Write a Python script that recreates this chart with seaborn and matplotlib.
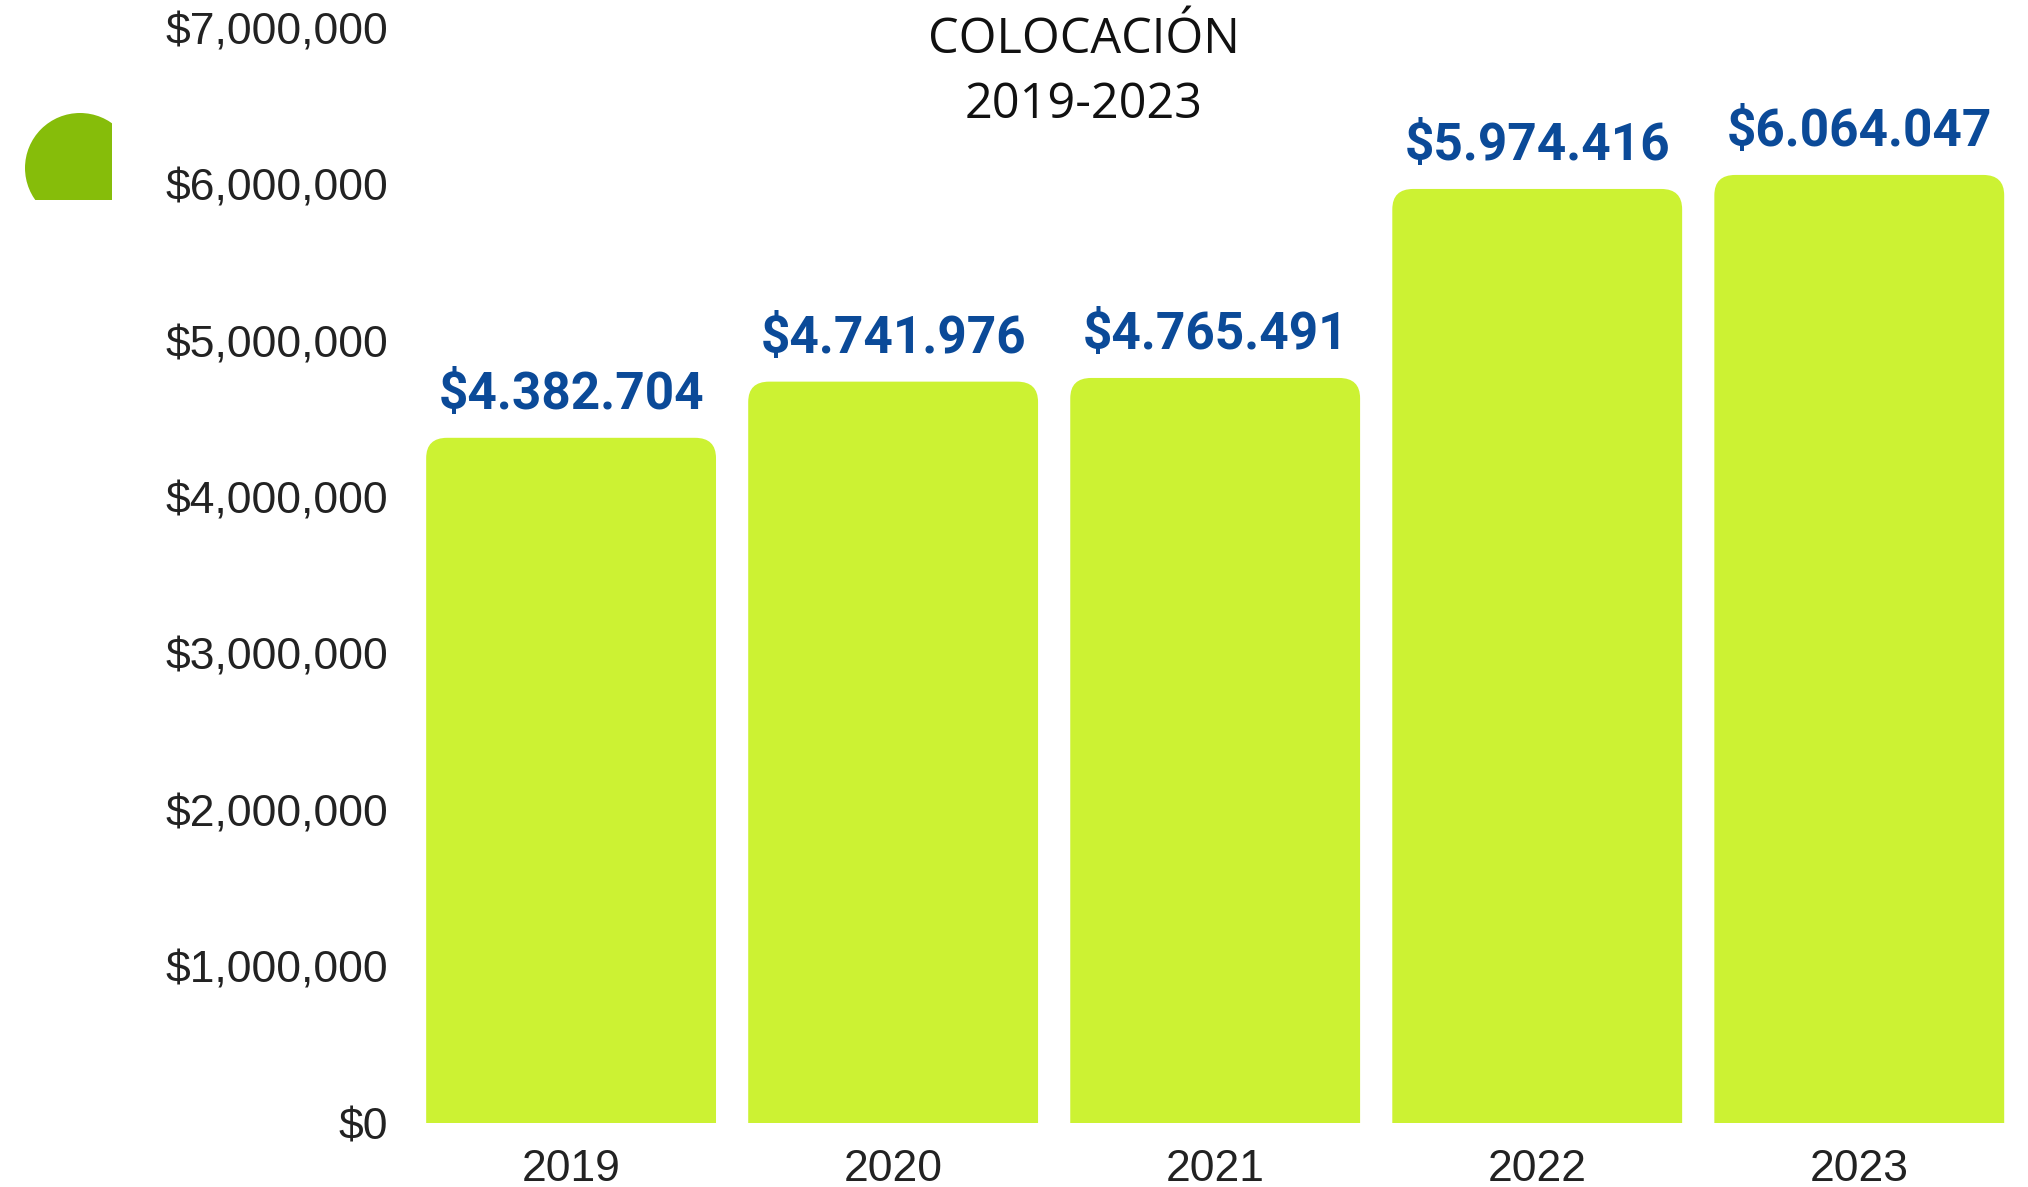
import matplotlib
matplotlib.use('Agg')
import matplotlib.pyplot as plt
import seaborn as sns
import pandas as pd
from matplotlib.patches import FancyBboxPatch, Ellipse, Rectangle
from matplotlib.ticker import FuncFormatter

# Data
years = ['2019', '2020', '2021', '2022', '2023']
colocacion = [4382704, 4741976, 4765491, 5974416, 6064047]
value_labels = ['$4.382.704', '$4.741.976', '$4.765.491', '$5.974.416', '$6.064.047']
y_ticks = [0, 1000000, 2000000, 3000000, 4000000, 5000000, 6000000, 7000000]

bar_color = '#CCF233'
label_blue = '#0B4A98'

sns.set_theme(style='white')
plt.rcParams['font.family'] = ['Liberation Sans', 'DejaVu Sans']

df = pd.DataFrame({'year': years, 'value': colocacion})

fig = plt.figure(figsize=(20.28, 11.87), dpi=100)
ax = fig.add_axes([0.2022, 0.0539, 0.794, 0.922])

sns.barplot(data=df, x='year', y='value', color=bar_color, width=0.9,
            saturation=1, ax=ax)

# swap the flat bars for ones with rounded tops
for p in list(ax.patches):
    x0, w, h = p.get_x(), p.get_width(), p.get_height()
    p.set_visible(False)
    rb = FancyBboxPatch((x0, -400000), w, h + 400000,
                        boxstyle='round,pad=0,rounding_size=0.065',
                        mutation_aspect=2.0e6, facecolor=bar_color,
                        edgecolor='none', clip_on=True)
    ax.add_patch(rb)

for i, (v, lab) in enumerate(zip(colocacion, value_labels)):
    ax.annotate(lab, (i, v), xytext=(0, 13), textcoords='offset points',
                ha='center', va='bottom', fontsize=37, fontweight='bold',
                color=label_blue, family=['Roboto', 'DejaVu Sans'])

ax.set_xlim(-0.5, 4.5)
ax.set_ylim(0, 7000000)
ax.set_yticks(y_ticks)
ax.yaxis.set_major_formatter(FuncFormatter(lambda x, pos: '${:,.0f}'.format(x)))
ax.set_xlabel('')
ax.set_ylabel('')
ax.tick_params(axis='both', length=0, labelsize=32, colors='#222222')
ax.tick_params(axis='y', pad=16)
ax.tick_params(axis='x', pad=19)
sns.despine(ax=ax, left=True, bottom=True)

# title
fig.text(0.5345, 0.966, 'COLOCACIÓN', ha='center', va='center', fontsize=35,
         fontweight='medium', color='#111111', family=['Open Sans', 'DejaVu Sans'])
fig.text(0.5345, 0.911, '2019-2023', ha='center', va='center', fontsize=35,
         fontweight='medium', color='#111111', family=['Open Sans', 'DejaVu Sans'])

# green ball decoration in the top-left corner, cut on right and bottom
clip = Rectangle((0, 1 - 200 / 1187), 112 / 2028, 200 / 1187,
                 transform=fig.transFigure, visible=False)
fig.patches.append(clip)
ball = Ellipse((80 / 2028, 1 - 168 / 1187), 110 / 2028, 110 / 1187,
               transform=fig.transFigure, facecolor='#86BD0A', edgecolor='none')
fig.patches.append(ball)
ball.set_clip_path(clip)

fig.savefig('out.png', dpi=100)
